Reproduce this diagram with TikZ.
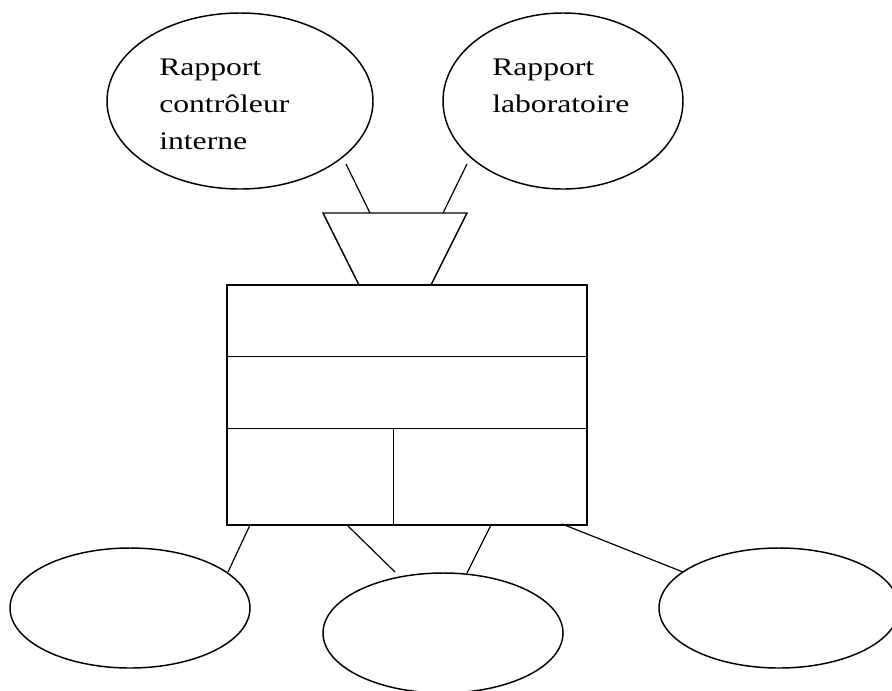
\documentclass[tikz,border=0pt]{standalone}
\usepackage{fontspec}
\setmainfont{Liberation Serif}
\usepackage{graphicx}
\usetikzlibrary{shapes.geometric,calc}
\newcommand{\etire}[1]{\scalebox{1.25}[1]{\begin{tabular}[t]{@{}l@{}}#1\end{tabular}}}
\tikzset{
  bulle/.style={draw,ellipse,line width=1.1pt,inner sep=0pt},
  cadre/.style={line width=1.1pt},
  trait/.style={line width=0.9pt}
}
\begin{document}
\begin{tikzpicture}[x=0.75pt,y=-0.75pt,font=\fontsize{19}{28.1}\selectfont]
  % pixel grid 892x690, y grows downward
  \useasboundingbox (0,0) rectangle (892,690);
  % top ellipses (reports)
  \node[bulle,minimum width=199.5pt,minimum height=132pt] (rci) at (240,101) {};
  \node[bulle,minimum width=180pt,minimum height=132pt] (rlab) at (563,101) {};
  \node[anchor=base west,inner sep=0pt] (rci-txt) at (159,75) {\etire{Rapport\\contrôleur\\interne}};
  \node[anchor=base west,inner sep=0pt] (rlab-txt) at (492,75) {\etire{Rapport\\laboratoire}};
  % funnel
  \coordinate (fil-tl) at (323,213);
  \coordinate (fil-tr) at (467,213);
  \coordinate (fil-br) at (431,285);
  \coordinate (fil-bl) at (359,285);
  \draw[cadre] (fil-tl) -- (fil-tr) -- (fil-br) -- (fil-bl) -- cycle;
  % record box, 2 full rows + 2 half cells
  \node[draw,cadre,minimum width=270pt,minimum height=180pt,inner sep=0pt] (fiche) at (407,405) {};
  \foreach \dy in {72,144}{
    \draw[cadre] ($(fiche.north west)+(0,\dy)$) -- ($(fiche.north east)+(0,\dy)$);}
  \draw[cadre] ($(fiche.north west)+(167,144)$) -- ($(fiche.south west)+(167,0)$);
  % bottom ellipses
  \node[bulle,minimum width=180pt,minimum height=90pt] (sa) at (130,608) {};
  \node[bulle,minimum width=180pt,minimum height=90pt] (sb) at (443,633) {};
  \node[bulle,minimum width=180pt,minimum height=90pt] (sc) at (779,608) {};
  % connector ends
  \coordinate (rci-out) at (346,164);
  \coordinate (fil-in1) at (370,213);
  \coordinate (rlab-out) at (467,164);
  \coordinate (fil-in2) at (443,213);
  \coordinate (fiche-o1) at (250,525);
  \coordinate (sa-in) at (228,572);
  \coordinate (fiche-o2) at (347,525);
  \coordinate (sb-in1) at (395,572);
  \coordinate (fiche-o3) at (491,525);
  \coordinate (sb-in2) at (467,573);
  \coordinate (fiche-o4) at (562,524);
  \coordinate (sc-in) at (683,572);
  % connectors
  \draw[trait] (rci-out) -- (fil-in1);
  \draw[trait] (rlab-out) -- (fil-in2);
  \draw[trait] (fiche-o1) -- (sa-in);
  \draw[trait] (fiche-o2) -- (sb-in1);
  \draw[trait] (fiche-o3) -- (sb-in2);
  \draw[trait] (fiche-o4) -- (sc-in);
\end{tikzpicture}
\end{document}
